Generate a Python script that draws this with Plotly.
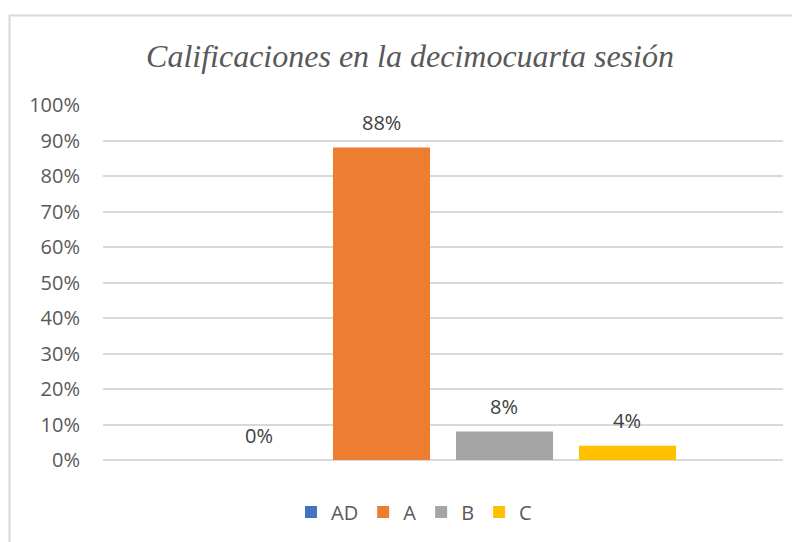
import plotly.graph_objects as go

title_text = "Calificaciones en la decimocuarta sesión"
category = ["Sesión 14"]
series_names = ["AD", "A", "B", "C"]
series_values = [0.0, 0.88, 0.08, 0.04]
series_colors = ["#4472C4", "#ED7D31", "#A5A5A5", "#FFC000"]
y_ticks = [0, 0.1, 0.2, 0.3, 0.4, 0.5, 0.6, 0.7, 0.8, 0.9, 1.0]
y_tick_labels = ["0%", "10%", "20%", "30%", "40%", "50%", "60%", "70%", "80%", "90%", "100%"]

# page body has an 8px margin; lay out the figure in page coordinates minus that
OFF = 8
W, H = 800 - OFF, 542 - OFF
L, T = 103 - OFF, 105 - OFF
pw, ph = 680, 355
R = W - L - pw
B = H - T - ph
BARGAP, GROUPGAP = 0.2765, 0.211

fig = go.Figure()
for name, val, col in zip(series_names, series_values, series_colors):
    fig.add_trace(go.Bar(
        x=category, y=[val], name=name, marker=dict(color=col, line=dict(width=0)),
        hoverinfo="skip",
    ))

# data labels above each bar of the group
slot = (1 - BARGAP) * pw / len(series_names)
annotations = []
for i, val in enumerate(series_values):
    annotations.append(dict(
        x=category[0], y=val, xref="x", yref="y", text=f"{val:.0%}", showarrow=False,
        xshift=(i - (len(series_values) - 1) / 2) * slot, yshift=25, yanchor="middle",
        font=dict(family="Open Sans", size=20, color="#404040"),
    ))

def px_x(p):
    return (p - OFF - L) / pw

def px_y(p):
    return (H - B - (p - OFF)) / ph

fig.update_layout(
    width=W, height=H,
    margin=dict(l=L, r=R, t=T, b=B),
    paper_bgcolor="white", plot_bgcolor="white",
    barmode="group", bargap=BARGAP, bargroupgap=GROUPGAP,
    title=dict(text=title_text, x=(410 - OFF) / W, xanchor="center", y=1 - (56 - OFF) / H, yanchor="middle",
               font=dict(family="Liberation Serif", size=32, color="#595959", style="italic")),
    xaxis=dict(showticklabels=False, showgrid=False, zeroline=False, showline=False, ticks=""),
    yaxis=dict(range=[0, 1.0], tickvals=y_ticks, ticktext=y_tick_labels,
               showgrid=True, gridcolor="#d9d9d9", gridwidth=1.5, zeroline=True,
               zerolinecolor="#d9d9d9", zerolinewidth=1.5, showline=False, ticks="",
               ticklabelstandoff=22,
               tickfont=dict(family="Open Sans", size=20, color="#595959")),
    legend=dict(orientation="h", x=(414 - OFF) / W, xanchor="center", xref="container",
                y=1 - (512 - OFF) / H, yref="container", yanchor="middle",
                font=dict(family="Open Sans", size=20, color="#595959"),
                itemwidth=30, traceorder="normal"),
    showlegend=True,
    hovermode=False,
    annotations=annotations,
    shapes=[dict(type="rect", xref="paper", yref="paper",
                 x0=px_x(9.5), x1=px_x(803), y0=px_y(560), y1=px_y(15.5),
                 line=dict(color="#d9d9d9", width=2), fillcolor="rgba(0,0,0,0)", layer="below")],
)

fig.write_html("out.html")
